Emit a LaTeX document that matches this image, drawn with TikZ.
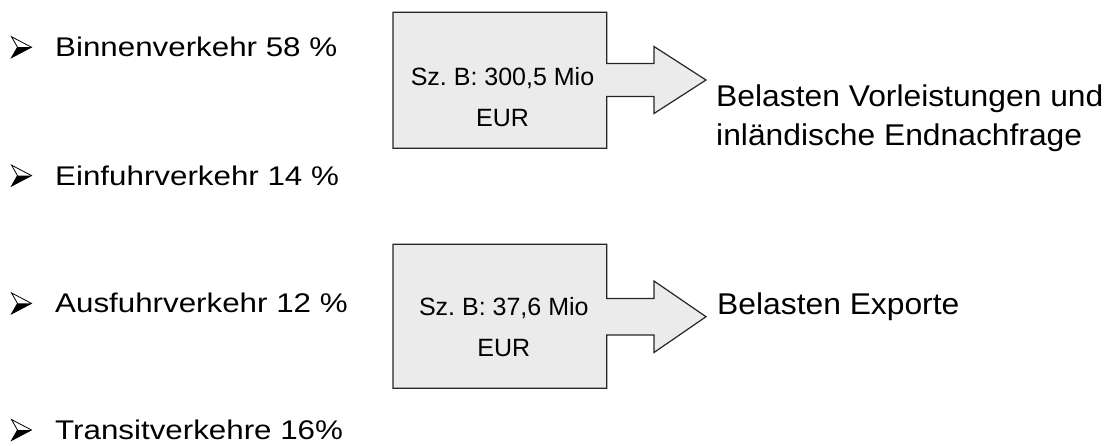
\documentclass[tikz,border=0pt]{standalone}
\usepackage{fontspec}
\setmainfont{Liberation Sans}
\frenchspacing
\begin{document}
\begin{tikzpicture}[x=1pt,y=-1pt]
\useasboundingbox (0,0) rectangle (1117,445);
\tikzset{
  bullettext/.style={anchor=base west, inner sep=0pt, xscale=1.16, transform shape, font=\fontsize{27}{32}\selectfont},
  boxtext/.style={anchor=base, inner sep=0pt, align=center, font=\frenchspacing\fontsize{25}{41.7}\selectfont},
  righttext/.style={anchor=base west, inner sep=0pt, align=left, xscale=1.06, transform shape, font=\fontsize{30}{38.3}\selectfont},
  flow/.style={draw=black!85, fill=black!8, line width=1.2pt, line join=miter},
  arrbullet/.pic={
    \fill[black] (6,0) -- (20,0) -- (0,10.5) -- cycle;
    \draw[black, line width=0.8pt, line join=miter] (0,-10.5) -- (20,0) -- (0,10.5) -- (6,0) -- cycle;
  }
}
% bullets
\pic at (11.5,47.2) {arrbullet};
\pic at (11.5,175.6) {arrbullet};
\pic at (11.5,303.4) {arrbullet};
\pic at (11.5,430) {arrbullet};
\node[bullettext] (b1) at (55,56.7) {Binnenverkehr 58 \%};
\node[bullettext] (b2) at (55,185.1) {Einfuhrverkehr 14 \%};
\node[bullettext] (b3) at (55,312.9) {Ausfuhrverkehr 12 \%};
\node[bullettext] (b4) at (55,439.5) {Transitverkehre 16\%};
% box + arrow 1
\draw[flow] (393,12.3) -- (606.7,12.3) -- (606.7,63.5) -- (654,63.5) -- (654,46.5)
  -- (706,80) -- (654,113.5) -- (654,96.5) -- (606.7,96.5) -- (606.7,148.3)
  -- (393,148.3) -- cycle;
\node[boxtext] (s1) at (502.5,126.7) {Sz.\ B: 300,5 Mio\\EUR};
% box + arrow 2
\draw[flow] (393,244.3) -- (606.7,244.3) -- (606.7,298.5) -- (654,298.5) -- (654,281)
  -- (706,316.7) -- (654,352.5) -- (654,335) -- (606.7,335) -- (606.7,388.3)
  -- (393,388.3) -- cycle;
\node[boxtext] (s2) at (503.8,356.7) {Sz.\ B: 37,6 Mio\\EUR};
% right texts
\node[righttext] (r1) at (716,145) {Belasten Vorleistungen und\\inländische Endnachfrage};
\node[righttext] (r2) at (717,314) {Belasten Exporte};
\end{tikzpicture}
\end{document}
